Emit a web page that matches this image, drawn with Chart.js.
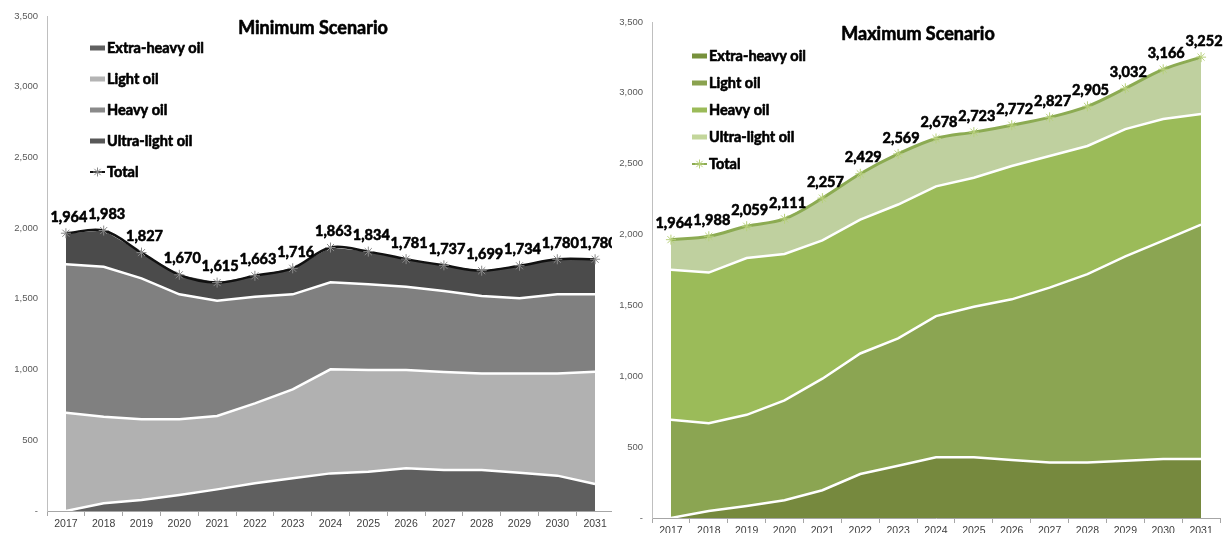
<!DOCTYPE html>
<html lang="en">
<head>
  <meta charset="UTF-8">
  <title>Oil Production Scenarios</title>
  <style>
    body {
      margin: 0;
      background: #fff;
      width: 1226px;
      height: 533px;
      overflow: hidden;
      position: relative;
    }
    canvas {
      position: absolute;
      top: 0;
    }
    #minChart { left: 0; }
    #maxChart { left: 612px; background: #fff; }
  </style>
  <script src="https://cdn.jsdelivr.net/npm/chart.js"></script>
</head>
<body>
  <canvas id="minChart" width="620" height="533"></canvas>
  <canvas id="maxChart" width="614" height="533"></canvas>

  <script>
    const years = ['2017', '2018', '2019', '2020', '2021', '2022', '2023', '2024',
                   '2025', '2026', '2027', '2028', '2029', '2030', '2031'];
    const seriesNames = ['Extra-heavy oil', 'Light oil', 'Heavy oil', 'Ultra-light oil', 'Total'];

    // Minimum scenario
    const minExtraHeavy = [0, 54, 78, 113, 153, 196, 231, 266, 278, 302, 290, 290, 271, 250, 191];
    const minLight      = [695, 613, 570, 535, 519, 565, 629, 736, 719, 695, 693, 683, 702, 723, 794];
    const minHeavy      = [1049, 1060, 997, 884, 815, 754, 672, 615, 606, 589, 572, 547, 531, 559, 547];
    const minUltraLight = [220, 256, 182, 138, 128, 148, 184, 246, 231, 195, 182, 179, 230, 248, 248];
    const minTotal      = [1964, 1983, 1827, 1670, 1615, 1663, 1716, 1863, 1834, 1781, 1737, 1699, 1734, 1780, 1780];

    // Maximum scenario
    const maxExtraHeavy = [0, 50, 85, 125, 196, 310, 369, 428, 428, 409, 392, 392, 404, 416, 416];
    const maxLight      = [693, 619, 643, 705, 787, 851, 898, 997, 1063, 1134, 1234, 1329, 1442, 1541, 1654];
    const maxHeavy      = [1058, 1063, 1106, 1033, 976, 945, 945, 915, 910, 941, 929, 904, 898, 858, 780];
    const maxUltraLight = [213, 256, 225, 248, 298, 323, 357, 338, 322, 288, 272, 280, 288, 351, 402];
    const maxTotal      = [1964, 1988, 2059, 2111, 2257, 2429, 2569, 2678, 2723, 2772, 2827, 2905, 3032, 3166, 3252];

    const boldFont = 'Lato, "Open Sans", sans-serif';
    const tickFont = '"Liberation Sans", Arial, sans-serif';

    const fmt = v => v === 0 ? '-' : v.toLocaleString('en-US');

    // little asterisk like the line markers
    function drawStar(ctx, x, y, r, color) {
      ctx.save();
      ctx.strokeStyle = color;
      ctx.lineWidth = 1;
      ctx.beginPath();
      ctx.moveTo(x - r, y); ctx.lineTo(x + r, y);
      ctx.moveTo(x, y - r); ctx.lineTo(x, y + r);
      const d = r * 0.707;
      ctx.moveTo(x - d, y - d); ctx.lineTo(x + d, y + d);
      ctx.moveTo(x - d, y + d); ctx.lineTo(x + d, y - d);
      ctx.stroke();
      ctx.restore();
    }

    // heavy text: fill plus a thin outline of the same colour
    function heavyText(ctx, text, x, y) {
      ctx.fillText(text, x, y);
      ctx.strokeText(text, x, y);
    }

    // title, side legend and value labels over the total line
    const overlayPlugin = {
      id: 'overlay',
      afterDatasetsDraw(chart, args, opts) {
        const ctx = chart.ctx;
        ctx.save();
        ctx.fillStyle = '#000';
        ctx.strokeStyle = '#000';
        ctx.lineWidth = 0.6;
        ctx.lineJoin = 'round';

        // title
        ctx.font = 'bold 18px ' + boldFont;
        ctx.textAlign = 'center';
        ctx.textBaseline = 'middle';
        heavyText(ctx, opts.title, opts.titleX, opts.titleY);

        // legend
        ctx.font = 'bold 14.5px ' + boldFont;
        ctx.textAlign = 'left';
        chart.data.datasets.forEach((ds, i) => {
          const y = opts.legendY + i * opts.legendStep;
          const x = opts.legendX;
          if (ds.isTotal) {
            ctx.save();
            ctx.strokeStyle = ds.borderColor;
            ctx.lineWidth = 2;
            ctx.beginPath();
            ctx.moveTo(x, y); ctx.lineTo(x + 15, y);
            ctx.stroke();
            ctx.restore();
            drawStar(ctx, x + 7.5, y, 4.5, ds.pointBorderColor);
          } else {
            ctx.fillStyle = ds.legendColor;
            ctx.fillRect(x, y - 2.5, 15, 5);
          }
          ctx.fillStyle = '#000';
          heavyText(ctx, ds.label, x + 17, y);
        });

        // value labels
        const totalIdx = chart.data.datasets.findIndex(d => d.isTotal);
        const meta = chart.getDatasetMeta(totalIdx);
        const values = chart.data.datasets[totalIdx].data;
        ctx.font = 'bold 14.5px ' + boldFont;
        ctx.textAlign = 'center';
        meta.data.forEach((pt, i) => {
          heavyText(ctx, fmt(values[i]), pt.x + 3, pt.y - 16);
        });
        ctx.restore();
      }
    };

    function buildChart(id, series, colors, look) {
      const areas = series.slice(0, 4).map((data, i) => ({
        label: seriesNames[i],
        data: data,
        backgroundColor: colors.area[i],
        legendColor: colors.legend[i],
        borderColor: '#ffffff',
        borderWidth: i === 3 ? 0 : 2.5,
        fill: i === 0 ? 'origin' : '-1',
        pointRadius: 0,
        tension: 0,
        stack: 'parts'
      }));

      const total = {
        label: seriesNames[4],
        data: series[4],
        isTotal: true,
        borderColor: colors.line,
        borderWidth: colors.lineWidth,
        backgroundColor: 'transparent',
        fill: false,
        tension: 0.35,
        pointStyle: 'star',
        pointRadius: 5,
        pointBorderWidth: 1,
        pointBorderColor: colors.marker,
        stack: 'total',
        order: -1
      };

      return new Chart(document.getElementById(id), {
        type: 'line',
        data: { labels: years, datasets: [...areas, total] },
        plugins: [overlayPlugin],
        options: {
          responsive: false,
          animation: false,
          devicePixelRatio: 1,
          layout: { padding: { top: look.top, right: 1, left: 0, bottom: 0 } },
          scales: {
            x: {
              offset: true,
              grid: {
                offset: true,
                drawOnChartArea: false,
                tickLength: 5,
                color: '#a6a6a6'
              },
              border: { color: '#a6a6a6' },
              ticks: {
                font: { family: tickFont, size: 10.5 },
                color: '#404040',
                padding: 2,
                maxRotation: 0,
                autoSkip: false
              },
              afterFit(scale) { scale.height = look.xHeight; }
            },
            y: {
              stacked: true,
              min: 0,
              max: 3500,
              grid: { drawOnChartArea: false, drawTicks: false },
              border: { color: '#bfbfbf' },
              ticks: {
                stepSize: 500,
                padding: 9,
                font: { family: tickFont, size: 9.5 },
                color: '#595959',
                callback: v => fmt(v)
              },
              afterFit(scale) { scale.width = look.yWidth; }
            }
          },
          plugins: {
            legend: { display: false },
            tooltip: { enabled: false },
            overlay: look.overlay
          }
        }
      });
    }

    buildChart('minChart',
      [minExtraHeavy, minLight, minHeavy, minUltraLight, minTotal],
      {
        area: ['#5f5f5f', '#b1b1b1', '#808080', '#4b4b4b'],
        legend: ['#606060', '#b4b4b4', '#8a8a8a', '#585858'],
        line: '#111111',
        lineWidth: 2.5,
        marker: '#8a8a8a'
      },
      {
        top: 16, xHeight: 22, yWidth: 47,
        overlay: {
          title: 'Minimum Scenario', titleX: 313, titleY: 28,
          legendX: 90, legendY: 48, legendStep: 31
        }
      });

    buildChart('maxChart',
      [maxExtraHeavy, maxLight, maxHeavy, maxUltraLight, maxTotal],
      {
        area: ['#76893e', '#8ba552', '#9bbb59', '#bfd09f'],
        legend: ['#77913c', '#8aa24f', '#9bbb59', '#c3d69b'],
        line: '#8cab52',
        lineWidth: 3,
        marker: '#b8d07c'
      },
      {
        top: 22, xHeight: 15, yWidth: 40,
        overlay: {
          title: 'Maximum Scenario', titleX: 306, titleY: 34,
          legendX: 80, legendY: 56, legendStep: 27
        }
      });
  </script>
</body>
</html>
